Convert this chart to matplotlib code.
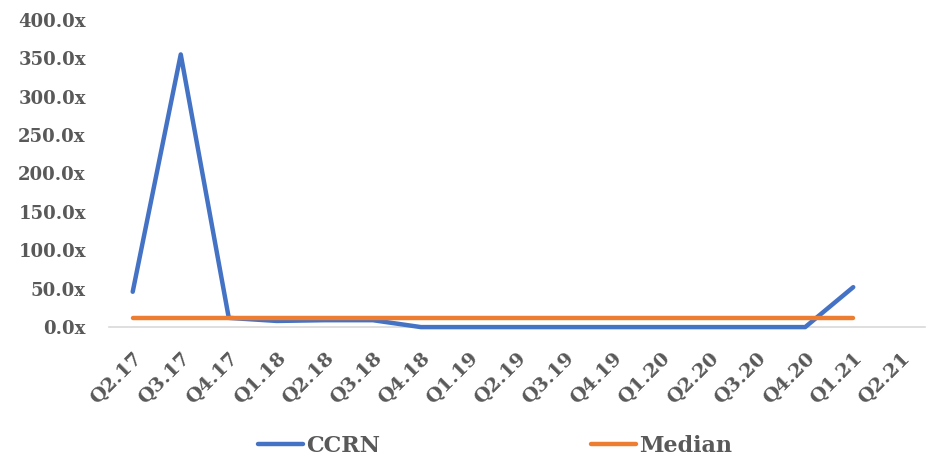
import matplotlib
matplotlib.use("Agg")
import matplotlib.pyplot as plt
from matplotlib.ticker import FuncFormatter

quarters = ["Q2.17", "Q3.17", "Q4.17", "Q1.18", "Q2.18", "Q3.18", "Q4.18",
            "Q1.19", "Q2.19", "Q3.19", "Q4.19", "Q1.20", "Q2.20", "Q3.20",
            "Q4.20", "Q1.21", "Q2.21"]
ccrn = [46, 355, 12, 8, 9, 9, 0, 0, 0, 0, 0, 0, 0, 0, 0, 52]
median = [11.3] * 16

text_color = "#595959"
family = "DejaVu Serif"

fig = plt.figure(figsize=(9.29, 4.62), dpi=100)
ax = fig.add_axes([0.117, 0.292, 0.879, 0.665])

x = list(range(len(quarters)))
ax.plot(x[:len(ccrn)], ccrn, color="#4472C4", lw=3.2, solid_capstyle="round",
        solid_joinstyle="round", label="CCRN", clip_on=False, zorder=3)
ax.plot(x[:len(median)], median, color="#ED7D31", lw=3.2, solid_capstyle="round",
        label="Median", clip_on=False, zorder=4)

ax.set_xlim(-0.5, len(quarters) - 0.5)
ax.set_ylim(0, 400)
ax.set_yticks(range(0, 401, 50))
ax.yaxis.set_major_formatter(FuncFormatter(lambda v, p: f"{v:.1f}x"))
ax.set_xticks(x)
ax.set_xticklabels(quarters, rotation=45, ha="right", rotation_mode="anchor")

for s in ("top", "right", "left"):
    ax.spines[s].set_visible(False)
ax.spines["bottom"].set_color("#D9D9D9")
ax.spines["bottom"].set_linewidth(1.2)
ax.tick_params(axis="both", length=0)
ax.tick_params(axis="y", pad=16.5)
ax.tick_params(axis="x", pad=16)
for lab in ax.get_xticklabels():
    lab.set_fontfamily(family)
    lab.set_fontweight("bold")
    lab.set_color(text_color)
    lab.set_fontsize(14)
for lab in ax.get_yticklabels():
    lab.set_fontfamily(family)
    lab.set_fontweight("bold")
    lab.set_color(text_color)
    lab.set_fontsize(13)

leg = fig.legend(loc="lower center", bbox_to_anchor=(0.533, -0.032), ncol=2,
                 frameon=False, columnspacing=9.5, handlelength=2.0,
                 handletextpad=0.15,
                 prop=dict(family=family, weight="bold", size=16))
for t in leg.get_texts():
    t.set_color(text_color)

fig.savefig("out.png", dpi=100)
